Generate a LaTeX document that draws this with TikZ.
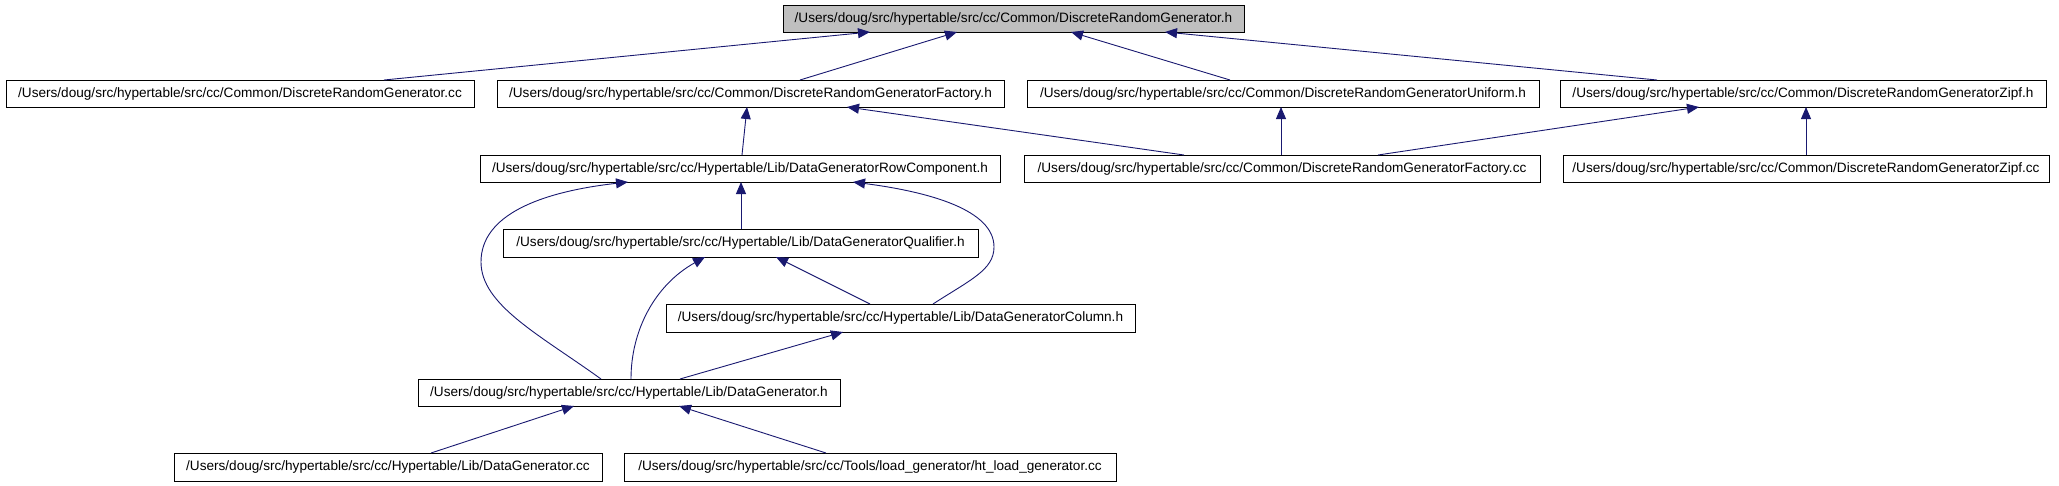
\documentclass[tikz,border=0pt]{standalone}
\usepackage{fontspec}
\setmainfont{Liberation Sans}
\usetikzlibrary{arrows.meta}
\definecolor{edgeblue}{RGB}{25,25,112}
\definecolor{rootgray}{RGB}{191,191,191}
\begin{document}
\begin{tikzpicture}[x=1pt,y=-1pt,
  filebox/.style={draw=black, line width=1pt, fill=white, inner sep=0pt, outer sep=0pt,
    anchor=north west, font=\fontsize{13.6}{15}\selectfont, text=black},
  rootbox/.style={filebox, fill=rootgray},
  edge/.style={draw=edgeblue, line width=0.9pt, -{Triangle[length=12pt,width=10pt]}}]
\useasboundingbox (0,0) rectangle (2059,485);
% row 1
\node[rootbox, minimum width=461pt, minimum height=27pt] (root) at (783,5) {/Users/doug/src/hypertable/src/cc/Common/DiscreteRandomGenerator.h};
% row 2
\node[filebox, minimum width=468pt, minimum height=27pt] (A) at (6,80) {/Users/doug/src/hypertable/src/cc/Common/DiscreteRandomGenerator.cc};
\node[filebox, minimum width=507pt, minimum height=27pt] (B) at (497,80) {/Users/doug/src/hypertable/src/cc/Common/DiscreteRandomGeneratorFactory.h};
\node[filebox, minimum width=512pt, minimum height=27pt] (C) at (1027,80) {/Users/doug/src/hypertable/src/cc/Common/DiscreteRandomGeneratorUniform.h};
\node[filebox, minimum width=486pt, minimum height=27pt] (D) at (1560,80) {/Users/doug/src/hypertable/src/cc/Common/DiscreteRandomGeneratorZipf.h};
% row 3
\node[filebox, minimum width=520pt, minimum height=27pt] (E) at (480,155) {/Users/doug/src/hypertable/src/cc/Hypertable/Lib/DataGeneratorRowComponent.h};
\node[filebox, minimum width=516pt, minimum height=27pt] (F) at (1024,155) {/Users/doug/src/hypertable/src/cc/Common/DiscreteRandomGeneratorFactory.cc};
\node[filebox, minimum width=486pt, minimum height=27pt] (G) at (1563,155) {/Users/doug/src/hypertable/src/cc/Common/DiscreteRandomGeneratorZipf.cc};
% row 4
\node[filebox, minimum width=475pt, minimum height=28pt] (H) at (503,229) {/Users/doug/src/hypertable/src/cc/Hypertable/Lib/DataGeneratorQualifier.h};
% row 5
\node[filebox, minimum width=469pt, minimum height=28pt] (I) at (666,304) {/Users/doug/src/hypertable/src/cc/Hypertable/Lib/DataGeneratorColumn.h};
% row 6
\node[filebox, minimum width=422pt, minimum height=27pt] (J) at (418,379) {/Users/doug/src/hypertable/src/cc/Hypertable/Lib/DataGenerator.h};
% row 7
\node[filebox, minimum width=428pt, minimum height=28pt] (K) at (174,453) {/Users/doug/src/hypertable/src/cc/Hypertable/Lib/DataGenerator.cc};
\node[filebox, minimum width=492pt, minimum height=28pt] (L) at (624,453) {/Users/doug/src/hypertable/src/cc/Tools/load\_generator/ht\_load\_generator.cc};
% edges to root
\draw[edge] (A.north -| 384,0) -- (root.south -| 870,0);
\draw[edge] (B.north -| 800,0) -- (root.south -| 957,0);
\draw[edge] (C.north -| 1230,0) -- (root.south -| 1071,0);
\draw[edge] (D.north -| 1657,0) -- (root.south -| 1165,0);
% row 3 -> row 2
\draw[edge] (E.north -| 742,0) -- (B.south -| 747,0);
\draw[edge] (F.north -| 1184,0) -- (B.south -| 847,0);
\draw[edge] (F.north -| 1281,0) -- (C.south -| 1281,0);
\draw[edge] (F.north -| 1378,0) -- (D.south -| 1699,0);
\draw[edge] (G.north -| 1806,0) -- (D.south -| 1806,0);
% lower part
\draw[edge] (H.north -| 741,0) -- (E.south -| 741,0);
\draw[edge] (J.north -| 601,0) .. controls (540,335) and (481,305) .. (481,262)
  .. controls (481,215) and (540,192) .. (E.south -| 628,0);
\draw[edge] (I.north -| 933,0) .. controls (970,280) and (994,270) .. (994,247)
  .. controls (994,210) and (930,192) .. (E.south -| 853,0);
\draw[edge] (J.north -| 631,0) .. controls (631,330) and (655,285) .. (H.south -| 705,0);
\draw[edge] (I.north -| 870,0) -- (H.south -| 776,0);
\draw[edge] (J.north -| 680,0) -- (I.south -| 843,0);
\draw[edge] (K.north -| 431,0) -- (J.south -| 574,0);
\draw[edge] (L.north -| 826,0) -- (J.south -| 679,0);
\end{tikzpicture}
\end{document}
